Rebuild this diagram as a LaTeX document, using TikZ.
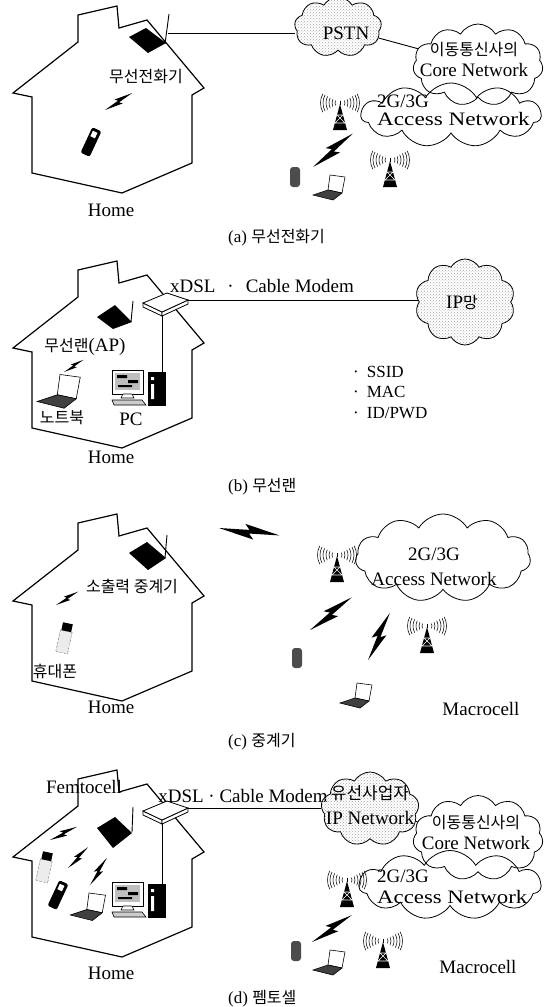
\documentclass[tikz,border=0pt]{standalone}
\usepackage{fontspec}
\setmainfont{Liberation Serif}
\newfontfamily\kr{Noto Sans CJK KR}
\usetikzlibrary{shapes.symbols}
\usetikzlibrary{patterns}

\tikzset{
  houseline/.style={line width=1.2pt, line join=miter},
  cloudy/.style={cloud, draw, cloud puffs=11, cloud puff arc=120, cloud ignores aspect, inner sep=0pt, line width=0.8pt},
  stipple/.style={pattern=crosshatch dots, pattern color=gray!70},
  wire/.style={line width=0.9pt},
  lbl/.style={font=\fontsize{19}{21}\selectfont, inner sep=0pt},
  kolbl/.style={font=\kr\fontsize{16}{18}\selectfont, inner sep=0pt},
  cloudtxt/.style={font=\fontsize{19}{21}\selectfont, inner sep=0pt, align=center},
  caplbl/.style={font=\fontsize{17}{19}\selectfont, inner sep=0pt, anchor=west},
}

\newcommand{\ko}[1]{{\kr\fontsize{16}{18}\selectfont #1}}

% 房屋轮廓
\newcommand{\house}[1]{%
  \draw[houseline, shift={(0,#1)}] (32,97) -- (13,93) -- (78,42) -- (78,15) -- (117,6) -- (119,28) -- (147,20) -- (204,88) -- (192,95) -- (192,163) -- (122,193) -- (32,173) -- cycle;}

% 闪电: 起点, 角度, 长度
\newcommand{\bolt}[3]{%
  \fill[shift={(#1)}, rotate=#2, scale=#3] (0,0) -- (0.58,0.12) -- (0.5,0.03) -- (1,0) -- (0.42,-0.12) -- (0.5,-0.03) -- cycle;}

% 基站
\newcommand{\tower}[1]{%
  \begin{scope}[shift={(#1)}]
    \fill (0,1) -- (-7,27) -- (7,27) -- cycle;
    \draw[white, line width=0.6pt] (-3,12) -- (3,12) (-5,20) -- (5,20) (-3,12) -- (5,20) (3,12) -- (-5,20);
    \draw[line width=0.9pt] (0,-2) -- (0,2);
    \foreach \r in {5,8,11,14,17,19.5} {
      \draw[line width=0.55pt] (28:\r) arc (28:-28:\r);
      \draw[line width=0.55pt] (152:\r) arc (152:208:\r);
    }
  \end{scope}}

\newcommand{\laptop}[2]{%
  \begin{scope}[shift={(#1)}, scale=#2]
    \draw[fill=white, line width=0.6pt] (-2,5) -- (0,-10) -- (15,-8) -- (12,8) -- cycle;
    \draw[fill=black!75, line width=0.6pt] (-2,5) -- (12,8) -- (3,15) -- (-17,10) -- cycle;
  \end{scope}}

\newcommand{\cellphone}[1]{%
  \fill[black!70, rounded corners=3pt, shift={(#1)}] (-5,-10) rectangle (5,10);}

\newcommand{\handset}[1]{%
  \begin{scope}[shift={(#1)}, rotate=-25]
    \fill[rounded corners=2pt] (-5,-14) rectangle (5,14);
    \fill[white] (-3,-11) rectangle (2,-5);
  \end{scope}}

\newcommand{\mobile}[1]{%
  \begin{scope}[shift={(#1)}, rotate=-12]
    \draw[densely dotted, fill=gray!15] (-6,-6) rectangle (6,16);
    \fill (-5,-14) rectangle (5,-6);
  \end{scope}}

\newcommand{\modem}[1]{%
  \begin{scope}[shift={(0,#1)}, line width=0.8pt]
    \filldraw[fill=white] (143,303) -- (162,312) -- (162,316) -- (143,307) -- cycle;
    \filldraw[fill=white] (162,312) -- (188,300) -- (188,304) -- (162,316) -- cycle;
    \filldraw[fill=white] (143,303) -- (167,293) -- (188,300) -- (162,312) -- cycle;
  \end{scope}}

\newcommand{\desktop}[1]{%
  \begin{scope}[shift={(#1)}, line width=0.6pt]
    \draw[fill=white] (0,2) rectangle (31,26);
    \fill[gray!50] (3,5) rectangle (28,22);
    \fill (5,7) rectangle (15,10) (16,12) rectangle (26,15) (6,17) rectangle (20,19);
    \draw[fill=white] (11,26) -- (20,26) -- (22,30) -- (9,30) -- cycle;
    \draw[fill=gray!40] (0,32) -- (30,32) -- (34,37) -- (2,37) -- cycle;
    \fill (36,4) rectangle (54,38);
    \fill[white] (39,9) rectangle (42,12) (39,16) rectangle (42,31);
  \end{scope}}

\begin{document}
\begin{tikzpicture}[x=1pt, y=-1pt]
\useasboundingbox (0,0) rectangle (557,1007);
\fill[white] (0,0) rectangle (557,1007);

% (a) 无绳电话
\house{0}
\fill (129,37) -- (146,28) -- (166,43) -- (148,53) -- cycle;
\draw[line width=0.9pt] (165,44) -- (169,14);
\coordinate (anta) at (168,33);
\node[kolbl] (phonea) at (146,77) {무선전화기};
\bolt{105,110}{32}{32}
\handset{91,142}
\node[lbl] (homea) at (111,210) {Home};
\node[cloudy, stipple, cloud puffs=9, minimum width=87pt, minimum height=60pt] (pstn) at (338,27) {};
\node[lbl] (pstntxt) at (346,33) {PSTN};
\node[cloudy, minimum width=130pt, minimum height=82pt] (corea) at (478,65) {};
\node[cloudtxt] (coreatxt) at (474,59) {\ko{이동통신사의}\\Core Network};
\node[cloudy, minimum width=180pt, minimum height=64pt] (accessa) at (451,115) {};
\node[cloudtxt, anchor=west, align=left, font=\fontsize{19}{18}\selectfont] (accessatxt) at (377,110) {2G/3G\\\scalebox{1.22}[1]{Access Network}};
\draw[wire] (anta) -- (anta -| pstn.west);
\draw[wire] (pstn) -- (corea);
\tower{340,103}
\tower{390,160}
\bolt{313,167}{40}{52}
\cellphone{295,177}
\laptop{330,185}{1}
\node[caplbl] (capa) at (228,238) {(a) \ko{무선전화기}};

% (b) 无线局域网
\house{255}
\fill (97,317) -- (115,305) -- (132,322) -- (113,329) -- cycle;
\draw[line width=0.9pt] (131,322) -- (133,301);
\modem{0}
\coordinate (modemb) at (162,316);
\coordinate (modemr) at (188,300);
\desktop{112,368}
\coordinate (pcb) at (162,372);
\draw[wire] (modemb) -- (pcb);
\node[lbl] (xdslb) at (262,286) {xDSL\hspace{12pt}·\hspace{12pt}Cable Modem};
\node[cloudy, stipple, cloud puffs=10, minimum width=100pt, minimum height=86pt] (ipb) at (465,302) {};
\node[lbl] (ipbtxt) at (462,302) {IP\ko{망}};
\draw[wire] (modemr) -- (modemr -| ipb.west);
\node[lbl, anchor=west, align=left, font=\fontsize{17}{20.5}\selectfont] (idlist) at (353,392) {·\hspace{8pt}SSID\\·\hspace{8pt}MAC\\·\hspace{8pt}ID/PWD};
\node[lbl] (apb) at (85,347) {\ko{무선랜}(AP)};
\bolt{64,372}{32}{23}
\laptop{60,388}{1.35}
\node[kolbl] (nbb) at (62,418) {노트북};
\node[lbl] (pclbl) at (131,419) {PC};
\node[lbl] (homeb) at (111,457) {Home};
\node[caplbl] (capb) at (228,487) {(b) \ko{무선랜}};

% (c) 中继器
\house{508}
\fill (129,553) -- (147,542) -- (166,558) -- (148,570) -- cycle;
\draw[line width=0.9pt] (165,558) -- (167,535);
\node[kolbl] (repc) at (132,586) {소출력 중계기};
\bolt{56,605}{31}{26}
\mobile{65,637}
\node[kolbl] (mobc) at (55,671) {휴대폰};
\node[lbl] (homec) at (111,707) {Home};
\bolt{219,528}{-7}{61}
\node[cloudy, minimum width=175pt, minimum height=88pt] (accessc) at (443,558) {};
\node[cloudtxt, font=\fontsize{19}{25}\selectfont] (accessctxt) at (434,567) {2G/3G\\Access Network};
\tower{337,555}
\tower{427,626}
\bolt{310,630}{38}{53}
\bolt{368,660}{65}{52}
\cellphone{297,658}
\laptop{357,693}{1}
\node[lbl] (macroc) at (481,709) {Macrocell};
\node[caplbl] (capc) at (228,742) {(c) \ko{중계기}};

% (d) 毫微微蜂窝
\house{764}
\fill (97,828) -- (115,817) -- (132,833) -- (113,848) -- cycle;
\draw[line width=0.9pt] (132,832) -- (133,807);
\modem{508}
\coordinate (modemdb) at (162,824);
\coordinate (modemdr) at (188,808);
\desktop{112,880}
\coordinate (pcdb) at (162,884);
\draw[wire] (modemdb) -- (pcdb);
\node[lbl] (femto) at (84,787) {Femtocell};
\bolt{50,840}{26}{30}
\bolt{68,868}{46}{29}
\bolt{90,885}{58}{32}
\mobile{45,866}
\handset{58,895}
\laptop{89,904}{1.1}
\node[lbl] (homed) at (111,973) {Home};
\node[lbl] (xdsld) at (243,796) {xDSL · Cable Modem};
\node[cloudy, stipple, cloud puffs=9, minimum width=98pt, minimum height=74pt] (ipd) at (370,809) {};
\node[cloudtxt, font=\fontsize{19}{25}\selectfont] (ipdtxt) at (370,805) {{\kr\fontsize{17}{19}\selectfont 유선사업자}\\IP Network};
\draw[wire] (modemdr) -- (modemdr -| ipd.west);
\node[cloudy, minimum width=130pt, minimum height=85pt] (cored) at (478,838) {};
\node[cloudtxt] (coredtxt) at (476,832) {\ko{이동통신사의}\\Core Network};
\draw[wire] (ipd) -- (cored);
\node[cloudy, minimum width=182pt, minimum height=69pt] (accessd) at (450,885) {};
\node[cloudtxt, anchor=west, align=left] (accessdtxt) at (377,887) {2G/3G\\\scalebox{1.2}[1]{Access Network}};
\tower{347,880}
\tower{383,941}
\bolt{312,942}{34}{48}
\cellphone{296,951}
\laptop{330,960}{1}
\node[lbl] (macrod) at (478,967) {Macrocell};
\node[caplbl] (capd) at (228,999) {(d) \ko{펨토셀}};
\end{tikzpicture}
\end{document}
